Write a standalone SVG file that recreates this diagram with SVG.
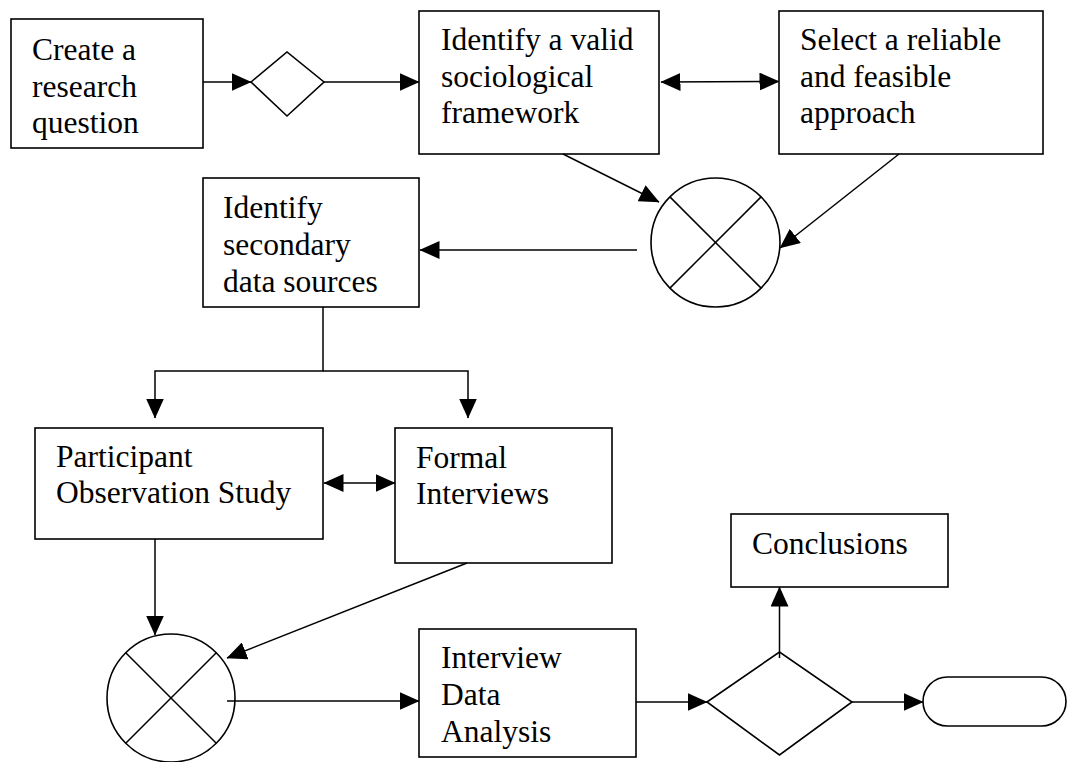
<svg xmlns="http://www.w3.org/2000/svg" width="1067" height="762" viewBox="0 0 1067 762">
<style>
  .box { fill: #fff; stroke: #000; stroke-width: 1.6; }
  .txt { font-family: "Liberation Serif", "Times New Roman", serif; font-size: 31.5px; fill: #000; }
  .ln { fill: none; stroke: #000; stroke-width: 1.5; }
</style>
<defs>
  <marker id="ah" viewBox="0 0 20 18" refX="19.5" refY="9" markerWidth="20" markerHeight="18" markerUnits="userSpaceOnUse" orient="auto-start-reverse">
    <path d="M0,0 L20,9 L0,18 z" fill="#000"/>
  </marker>
</defs>
<rect width="1067" height="762" fill="#fff"/>

<g id="n-create">
  <rect class="box" x="11" y="19" width="192" height="129"/>
  <text class="txt" x="32" y="60">Create a</text>
  <text class="txt" x="32" y="96.5">research</text>
  <text class="txt" x="32" y="132.5">question</text>
</g>
<g id="n-decision1">
  <polygon class="box" points="251,82 287,52 324,82 287,116"/>
</g>
<g id="n-framework">
  <rect class="box" x="419" y="11" width="240" height="143"/>
  <text class="txt" x="441" y="50">Identify a valid</text>
  <text class="txt" x="441" y="86.5">sociological</text>
  <text class="txt" x="441" y="123">framework</text>
</g>
<g id="n-approach">
  <rect class="box" x="779" y="11" width="264" height="143"/>
  <text class="txt" x="800" y="50">Select a reliable</text>
  <text class="txt" x="800" y="86.5">and feasible</text>
  <text class="txt" x="800" y="123">approach</text>
</g>
<g id="n-merge1">
  <circle class="box" cx="715.5" cy="242.5" r="64.5"/>
  <line class="ln" x1="669.9" y1="196.9" x2="761.1" y2="288.1"/>
  <line class="ln" x1="761.1" y1="196.9" x2="669.9" y2="288.1"/>
</g>
<g id="n-secondary">
  <rect class="box" x="203" y="178" width="216" height="129"/>
  <text class="txt" x="223" y="218">Identify</text>
  <text class="txt" x="223" y="255">secondary</text>
  <text class="txt" x="223" y="292">data sources</text>
</g>
<g id="n-participant">
  <rect class="box" x="35" y="428" width="288" height="111"/>
  <text class="txt" x="56" y="467">Participant</text>
  <text class="txt" x="56" y="503">Observation Study</text>
</g>
<g id="n-formal">
  <rect class="box" x="395" y="428" width="217" height="135"/>
  <text class="txt" x="416" y="468">Formal</text>
  <text class="txt" x="416" y="504">Interviews</text>
</g>
<g id="n-merge2">
  <circle class="box" cx="171" cy="698" r="64"/>
  <line class="ln" x1="125.7" y1="652.7" x2="216.3" y2="743.3"/>
  <line class="ln" x1="216.3" y1="652.7" x2="125.7" y2="743.3"/>
</g>
<g id="n-analysis">
  <rect class="box" x="419" y="629" width="217" height="128"/>
  <text class="txt" x="441" y="668">Interview</text>
  <text class="txt" x="441" y="705">Data</text>
  <text class="txt" x="441" y="742">Analysis</text>
</g>
<g id="n-decision2">
  <polygon class="box" points="707,702 779.5,652 852,702 779.5,755"/>
</g>
<g id="n-conclusions">
  <rect class="box" x="731" y="514" width="217" height="73"/>
  <text class="txt" x="752" y="554">Conclusions</text>
</g>
<g id="n-end">
  <rect class="box" x="923" y="677" width="143" height="49" rx="24.5" ry="24.5"/>
</g>

<g id="connectors">
  <line class="ln" x1="203" y1="82" x2="251" y2="82" marker-end="url(#ah)"/>
  <line class="ln" x1="324" y1="82" x2="419" y2="82" marker-end="url(#ah)"/>
  <line class="ln" x1="661" y1="82" x2="779" y2="81.5" marker-start="url(#ah)" marker-end="url(#ah)"/>
  <line class="ln" x1="563" y1="154" x2="659" y2="202" marker-end="url(#ah)"/>
  <line class="ln" x1="899" y1="154" x2="780" y2="248" marker-end="url(#ah)"/>
  <line class="ln" x1="637" y1="250" x2="420" y2="250" marker-end="url(#ah)"/>
  <polyline class="ln" points="323,307 323,371 155,371 155,418" marker-end="url(#ah)"/>
  <polyline class="ln" points="323,371 468,371 468,418" marker-end="url(#ah)"/>
  <line class="ln" x1="324" y1="483" x2="395" y2="483" marker-start="url(#ah)" marker-end="url(#ah)"/>
  <line class="ln" x1="155" y1="539" x2="155" y2="635" marker-end="url(#ah)"/>
  <line class="ln" x1="467" y1="563" x2="227" y2="658" marker-end="url(#ah)"/>
  <line class="ln" x1="227" y1="701" x2="419" y2="701" marker-end="url(#ah)"/>
  <line class="ln" x1="636" y1="702" x2="707" y2="702" marker-end="url(#ah)"/>
  <line class="ln" x1="779.5" y1="658" x2="779.5" y2="587" marker-end="url(#ah)"/>
  <line class="ln" x1="852" y1="702" x2="923" y2="702" marker-end="url(#ah)"/>
</g>
</svg>
